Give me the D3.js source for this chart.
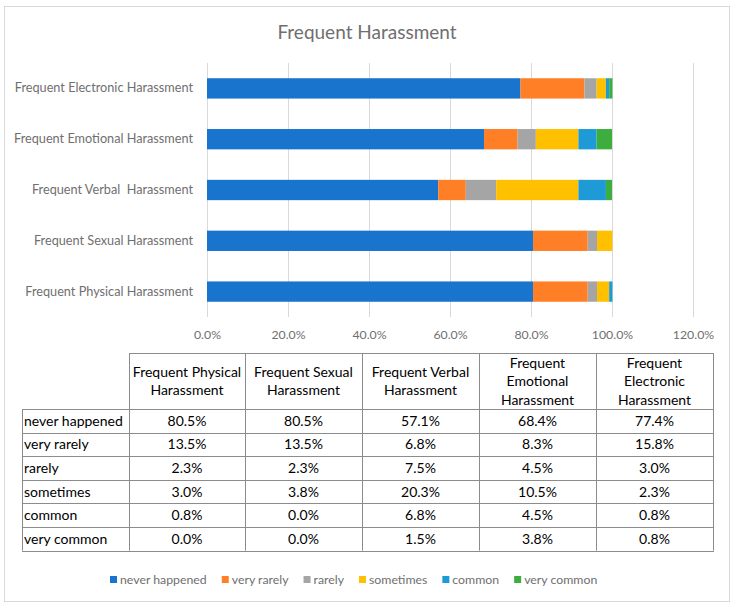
<!DOCTYPE html>
<html><head><meta charset="utf-8">
<script src="https://cdn.jsdelivr.net/npm/d3@7"></script>
<style>
body{margin:0;background:#fff;}
svg{display:block;font-family:Lato,"Open Sans",sans-serif;}
</style></head>
<body><svg id="chart" width="739" height="609"></svg>
<script>
const title = "Frequent Harassment";
const categories = ["Frequent Physical Harassment","Frequent Sexual Harassment","Frequent Verbal  Harassment","Frequent Emotional Harassment","Frequent Electronic Harassment"];
const tableHeaders = ["Frequent Physical Harassment","Frequent Sexual Harassment","Frequent Verbal Harassment","Frequent Emotional Harassment","Frequent Electronic Harassment"];
const levels = ["never happened","very rarely","rarely","sometimes","common","very common"];
const neverHappened = [80.5,80.5,57.1,68.4,77.4];
const veryRarely    = [13.5,13.5,6.8,8.3,15.8];
const rarely        = [2.3,2.3,7.5,4.5,3.0];
const sometimes     = [3.0,3.8,20.3,10.5,2.3];
const common        = [0.8,0.0,6.8,4.5,0.8];
const veryCommon    = [0.0,0.0,1.5,3.8,0.8];
const seriesValues = [neverHappened,veryRarely,rarely,sometimes,common,veryCommon];
const colors = ["#1874CD","#FF7F27","#A5A5A5","#FFC000","#1E9AD6","#3DAE3D"];
const xTicks = [0,20,40,60,80,100,120];

const svg = d3.select("#chart");
svg.append("rect").attr("x",4.5).attr("y",6.5).attr("width",725).attr("height",595)
  .attr("fill","#fff").attr("stroke","#d9d9d9").attr("stroke-width",1);

svg.append("text").attr("x",367).attr("y",39).attr("text-anchor","middle")
  .attr("font-size",19).attr("fill","#6f6f6f").text(title);

const x = d3.scaleLinear().domain([0,120]).range([207,693]);
const y = d3.scaleBand().domain(categories.slice().reverse()).range([63,317]).paddingInner(0.6).paddingOuter(0.3);

svg.append("g").selectAll("line").data(xTicks).join("line")
  .attr("x1",d=>x(d)+0.5).attr("x2",d=>x(d)+0.5).attr("y1",63).attr("y2",317)
  .attr("stroke","#d9d9d9").attr("stroke-width",1);

const rows = categories.map((c,i)=>{const o={cat:c}; levels.forEach((l,j)=>o[l]=seriesValues[j][i]); return o;});
const stack = d3.stack().keys(levels)(rows);
svg.append("g").selectAll("g").data(stack).join("g").attr("fill",(d,i)=>colors[i])
  .selectAll("rect").data(d=>d).join("rect")
  .attr("x",d=>x(d[0])).attr("width",d=>Math.max(0,x(d[1])-x(d[0])))
  .attr("y",d=>y(d.data.cat)).attr("height",y.bandwidth());

const xAxis = svg.append("g").attr("transform","translate(0,317)")
  .call(d3.axisBottom(x).tickValues(xTicks).tickFormat(d=>d.toFixed(1)+"%").tickSize(0).tickPadding(13));
xAxis.select(".domain").remove();
xAxis.selectAll("text").attr("font-size",12.3).attr("fill","#6f6f6f").attr("font-family","Lato");

const yAxis = svg.append("g").attr("transform","translate(207,0)")
  .call(d3.axisLeft(y).tickSize(0).tickPadding(14));
yAxis.select(".domain").remove();
yAxis.selectAll("text").attr("font-size",12.7).attr("fill","#6f6f6f").attr("font-family","Lato").style("white-space","pre");

const colX = [129,245,362,479,596,713];
const rowLeft = 22;
const headTop = 353, headBottom = 409;
const rowH = 23.6;
const tfs = 14;
const tg = svg.append("g").attr("font-size",tfs).attr("fill","#000");
const lineColor = "#8c8c8c";
tg.append("line").attr("x1",colX[0]).attr("x2",colX[5]).attr("y1",headTop+0.5).attr("y2",headTop+0.5).attr("stroke",lineColor);
colX.forEach(cx=>tg.append("line").attr("x1",cx+0.5).attr("x2",cx+0.5).attr("y1",headTop).attr("y2",headBottom+rowH*levels.length).attr("stroke",lineColor));
tg.append("line").attr("x1",rowLeft+0.5).attr("x2",rowLeft+0.5).attr("y1",headBottom).attr("y2",headBottom+rowH*levels.length).attr("stroke",lineColor);
d3.range(levels.length+1).forEach(r=>{
  const yy = Math.round(headBottom+rowH*r)+0.5;
  tg.append("line").attr("x1",rowLeft).attr("x2",colX[5]+1).attr("y1",yy).attr("y2",yy).attr("stroke",lineColor);
});
tableHeaders.forEach((h,i)=>{
  const cx = (colX[i]+colX[i+1])/2;
  const words = h.split(" ");
  const lines=[]; let cur="";
  const tmp = tg.append("text").attr("font-size",tfs);
  words.forEach(w=>{
    const test = cur? cur+" "+w : w;
    tmp.text(test);
    if(tmp.node().getComputedTextLength()>113 && cur){lines.push(cur); cur=w;} else cur=test;
  });
  lines.push(cur); tmp.remove();
  const lh = 18.5;
  const mid = (headTop+headBottom)/2;
  lines.forEach((l,k)=>{
    tg.append("text").attr("x",cx).attr("y",mid+(k-(lines.length-1)/2)*lh+5)
      .attr("text-anchor","middle").text(l);
  });
});
levels.forEach((l,r)=>{
  const yc = headBottom+rowH*(r+0.5)+5;
  tg.append("text").attr("x",rowLeft+2).attr("y",yc).text(l);
  seriesValues[r].forEach((v,i)=>{
    tg.append("text").attr("x",(colX[i]+colX[i+1])/2).attr("y",yc).attr("text-anchor","middle").text(v.toFixed(1)+"%");
  });
});

const lg = svg.append("g").attr("font-size",12.3).attr("fill","#6f6f6f");
let lx = 110;
levels.forEach((l,i)=>{
  lg.append("rect").attr("x",lx).attr("y",576).attr("width",7).attr("height",7).attr("fill",colors[i]);
  const t = lg.append("text").attr("x",lx+10).attr("y",584).text(l);
  lx += 10 + t.node().getComputedTextLength() + 15;
});
</script></body></html>
